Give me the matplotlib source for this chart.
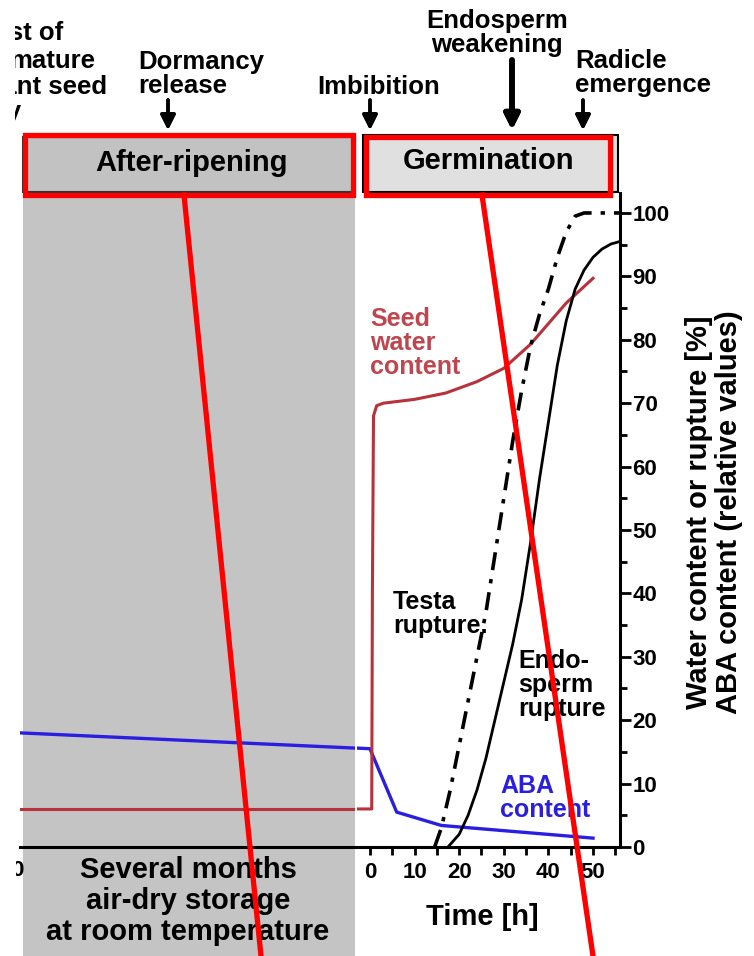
import numpy as np
import matplotlib.pyplot as plt
from matplotlib.patches import Rectangle
from matplotlib.lines import Line2D
from matplotlib.ticker import MultipleLocator

plt.rcParams['font.family'] = ['Liberation Sans', 'DejaVu Sans']
plt.rcParams['font.weight'] = 'bold'

W, H = 754, 956

# storage period (left panel, arbitrary months scale)
storage_x = [0, 1]
storage_aba = [18.0, 15.6]
storage_water = [6.0, 6.0]

# germination period, time in hours
time_aba = [-3, 0, 6, 16, 50]
aba = [15.6, 15.5, 5.5, 3.4, 1.4]

time_water = [-3, 0.4, 0.55, 0.8, 1.5, 3, 10, 17, 24, 30, 36, 44, 50]
water = [6, 6, 40, 68, 69.6, 70, 70.6, 71.6, 73.4, 75.5, 79.3, 85.8, 89.7]

time_testa = [14.5, 16, 18, 20, 22, 24, 26, 28, 30, 32, 34, 36, 38, 40, 42, 44, 46, 48, 56]
testa = [0, 3, 9, 16, 23, 30, 37, 46, 55, 64, 72, 79, 84, 88, 93, 97, 99.5, 100, 100]

time_endo = [17.5, 20, 22, 24, 26, 28, 30, 32, 34, 36, 38, 40, 42, 44, 46, 48, 50, 52, 54, 56]
endo = [0, 2, 5, 9, 14, 20, 26, 32, 39, 48, 58, 67, 76, 83, 88, 91, 93, 94.3, 95.1, 95.5]

red = '#b8323b'
blue = '#2a1ee0'


def fx(x):
    return x / W


def fy(y):
    return 1 - y / H


fig = plt.figure(figsize=(W / 100, H / 100), dpi=100)

# gray storage background
fig.patches.append(Rectangle((fx(23), 0), fx(355) - fx(23), fy(193), transform=fig.transFigure,
                             facecolor='#c4c4c4', edgecolor='none', zorder=-1))

# left panel: storage
axl = fig.add_axes([fx(20), fy(847), fx(355) - fx(20), fy(193) - fy(847)])
axl.patch.set_visible(False)
axl.set_xlim(0, 1)
axl.set_ylim(0, 103.15)
axl.plot(storage_x, storage_aba, color=blue, lw=2.4)
axl.plot(storage_x, storage_water, color=red, lw=2.2)
for s in ['top', 'left', 'right']:
    axl.spines[s].set_visible(False)
axl.spines['bottom'].set_linewidth(2.2)
axl.set_xticks([])
axl.set_yticks([])

# right panel: germination
ax = fig.add_axes([fx(357), fy(847), fx(620) - fx(357), fy(193) - fy(847)])
ax.patch.set_visible(False)
ax.set_xlim(-2.9, 56.05)
ax.set_ylim(0, 103.15)
ax.plot(time_aba, aba, color=blue, lw=2.4)
ax.plot(time_water, water, color=red, lw=2.2)
ax.plot(time_testa, testa, color='black', lw=2.6, linestyle=(0, (5, 2.5, 1.2, 2.5)))
ax.plot(time_endo, endo, color='black', lw=2.0)

for s in ['top', 'left']:
    ax.spines[s].set_visible(False)
ax.spines['right'].set_linewidth(2.2)
ax.spines['bottom'].set_linewidth(2.2)
ax.yaxis.tick_right()
ax.xaxis.set_major_locator(MultipleLocator(10))
ax.xaxis.set_minor_locator(MultipleLocator(5))
ax.yaxis.set_major_locator(MultipleLocator(10))
ax.yaxis.set_minor_locator(MultipleLocator(5))
ax.tick_params(axis='both', which='major', direction='out', width=2, labelsize=16)
ax.tick_params(axis='y', which='major', length=8, pad=1)
ax.tick_params(axis='y', which='minor', length=5, width=2)
ax.tick_params(axis='x', which='major', length=6, pad=5)
ax.tick_params(axis='x', which='minor', length=6, width=2)

# curve labels
fig.text(fx(370), fy(343), 'Seed\nwater\ncontent', color=red, fontsize=18, ha='left', va='center',
         linespacing=1.0, alpha=0.9)
fig.text(fx(393), fy(614), 'Testa\nrupture.', color='black', fontsize=18, ha='left', va='center',
         linespacing=1.0)
fig.text(fx(518), fy(685), 'Endo-\nsperm\nrupture', color='black', fontsize=18, ha='left', va='center',
         linespacing=1.0)
fig.text(fx(500), fy(798), 'ABA\ncontent', color=blue, fontsize=18, ha='left', va='center',
         linespacing=1.0)

# axis labels
fig.text(fx(482), fy(917), 'Time [h]', fontsize=21, ha='center', va='center')
fig.text(fx(714), fy(512), 'Water content or rupture [%]\nABA content (relative values)', fontsize=21,
         rotation=90, ha='center', va='center', linespacing=1.1)
fig.text(fx(188), fy(901), 'Several months\nair-dry storage\nat room temperature', fontsize=21,
         ha='center', va='center', linespacing=1.12)
fig.text(fx(23), fy(870), '0', fontsize=16, ha='right', va='center')

# phase boxes
fig.patches.append(Rectangle((fx(23), fy(192)), fx(355) - fx(23), fy(137) - fy(192), transform=fig.transFigure,
                             facecolor='#c2c2c2', edgecolor='#333333', lw=1.5, zorder=2))
fig.patches.append(Rectangle((fx(363), fy(192)), fx(618) - fx(363), fy(135) - fy(192), transform=fig.transFigure,
                             facecolor='#e0e0e0', edgecolor='black', lw=1.5, zorder=2))
fig.text(fx(192), fy(163), 'After-ripening', fontsize=21, ha='center', va='center', zorder=3)
fig.text(fx(488), fy(161), 'Germination', fontsize=21, ha='center', va='center', zorder=3)

# event labels and arrows
fig.text(fx(63), fy(33), 'Harvest of', fontsize=18.5, ha='right', va='center')
fig.text(fx(95), fy(61), 'mature', fontsize=18.5, ha='right', va='center')
fig.text(fx(107), fy(87), 'dormant seed', fontsize=18.5, ha='right', va='center')
fig.text(fx(21), fy(112), 'dry', fontsize=18.5, ha='right', va='center')
fig.text(fx(138), fy(74), 'Dormancy\nrelease', fontsize=18.5, ha='left', va='center', linespacing=1.03)
fig.text(fx(379), fy(87), 'Imbibition', fontsize=18.5, ha='center', va='center')
fig.text(fx(497), fy(33), 'Endosperm\nweakening', fontsize=18.5, ha='center', va='center', linespacing=1.03)
fig.text(fx(575), fy(73), 'Radicle\nemergence', fontsize=18.5, ha='left', va='center', linespacing=1.03)

# the reference picture is cropped a little at its left edge
fig.patches.append(Rectangle((0, fy(130)), fx(15), 1 - fy(130), transform=fig.transFigure,
                             facecolor='white', edgecolor='none', zorder=5))
fig.patches.append(Rectangle((0, 0), fx(16), fy(847) - 0.002, transform=fig.transFigure,
                             facecolor='white', edgecolor='none', zorder=5))

arrows = [(168, 100, 130, 2.5), (370, 100, 130, 2.5), (512, 60, 130, 4.0), (583, 100, 130, 2.5)]
for xa, y0, y1, lw in arrows:
    fig.add_artist(plt.annotate('', xy=(fx(xa), fy(y1)), xytext=(fx(xa), fy(y0)),
                                xycoords='figure fraction', textcoords='figure fraction',
                                arrowprops=dict(arrowstyle='-|>', color='black', lw=lw,
                                                mutation_scale=22, shrinkA=0, shrinkB=0)))

# red overlay annotations
fig.patches.append(Rectangle((fx(25), fy(195)), fx(353) - fx(25), fy(135) - fy(195), transform=fig.transFigure,
                             facecolor='none', edgecolor='red', lw=3.8, zorder=10))
fig.patches.append(Rectangle((fx(366), fy(195)), fx(610) - fx(366), fy(137) - fy(195), transform=fig.transFigure,
                             facecolor='none', edgecolor='red', lw=3.8, zorder=10))
fig.add_artist(Line2D([fx(184), fx(261)], [fy(195), fy(956)], color='red', lw=3.8, zorder=10))
fig.add_artist(Line2D([fx(482), fx(593)], [fy(195), fy(956)], color='red', lw=3.8, zorder=10))

fig.savefig('out.png', dpi=100)
